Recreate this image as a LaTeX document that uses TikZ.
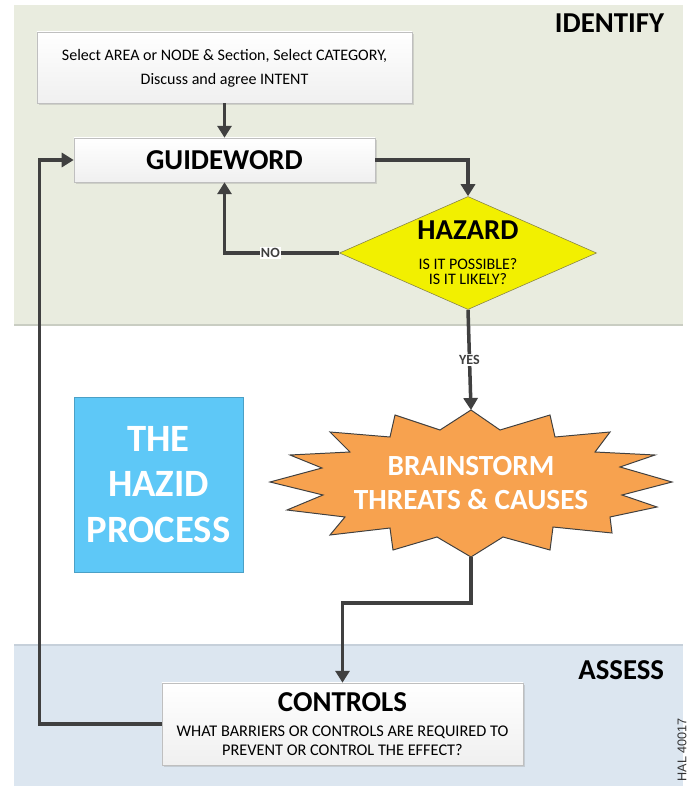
\documentclass[tikz,border=0pt]{standalone}
\usepackage{fontspec}
\setmainfont{Carlito}
\newfontfamily\fignumfont{Liberation Sans}
\usepackage{xcolor}
\definecolor{hzIdent}{HTML}{E9ECDF}
\definecolor{hzIdentLine}{HTML}{C9CDC2}
\definecolor{hzAssess}{HTML}{DCE6F0}
\definecolor{hzAssessLine}{HTML}{C6D0DA}
\definecolor{hzArrow}{HTML}{404040}
\definecolor{hzYellow}{HTML}{F2F000}
\definecolor{hzOrange}{HTML}{F7A24F}
\definecolor{hzBlue}{HTML}{5EC8F7}
\definecolor{hzBorder}{HTML}{BFBFBF}
\usetikzlibrary{shapes.geometric,arrows.meta,positioning,shadows,calc}
\tikzset{
    stepbox/.style={
        draw=hzBorder,
        top color=white,
        bottom color=black!6,
        rectangle,
        align=center,
        inner sep=0pt,
        drop shadow={opacity=0.25, shadow xshift=1.2pt, shadow yshift=-1.2pt}
    },
    decision/.style={
        diamond,
        draw=yellow!45!black,
        fill=hzYellow,
        aspect=2.27,
        inner sep=0pt,
        align=center,
        font=\fontsize{11.4}{11}\selectfont
    },
    process/.style={
        draw=hzBlue!80!black,
        fill=hzBlue,
        rectangle,
        inner sep=0pt,
        align=center,
        text=white,
        font=\fontsize{27.5}{32.5}\selectfont\bfseries
    },
    burst/.style={
        draw=black!75,
        fill=hzOrange,
        line width=0.7pt,
        line join=miter
    },
    flow/.style={
        -{Triangle[length=8.5pt,width=10pt]},
        line width=2.5pt,
        color=hzArrow
    },
    phase/.style={
        font=\fontsize{20.5}{24}\selectfont\bfseries,
        anchor=east
    },
    answer/.style={
        font=\fontsize{10}{10}\selectfont\bfseries,
        fill=white,
        inner sep=1pt
    },
    big/.style={font=\fontsize{20.5}{24}\selectfont\bfseries}
}

\begin{document}
\begin{tikzpicture}[x=0.025cm, y=-0.025cm]
    \useasboundingbox (0,0) rectangle (690,786);

    % phase bands
    \fill[hzIdent] (14,5) rectangle (683,325);
    \draw[hzIdentLine, line width=1pt] (14,325) -- (683,325);
    \fill[hzAssess] (14,645) rectangle (683,786);
    \draw[hzAssessLine, line width=0.8pt] (14,645) -- (683,645);
    \node[phase] (identify) at (669,23) {IDENTIFY};
    \node[phase] (assess) at (669,670) {ASSESS};

    % identify steps
    \node[stepbox, minimum width=9.375cm, minimum height=1.775cm,
        font=\fontsize{11.4}{16.8}\selectfont] (select) at (224.5,67.5)
        {\rule{0pt}{9pt}Select AREA or NODE \& Section, Select CATEGORY,\\Discuss and agree INTENT};
    \node[stepbox, big, minimum width=7.525cm, minimum height=1.1cm]
        (guide) at (224.5,160) {GUIDEWORD};
    \node[decision, minimum width=6.425cm, minimum height=2.825cm] (hazard) at (468,253)
        {{\fontsize{20.5}{24}\selectfont\bfseries HAZARD}\\[10pt]IS IT POSSIBLE?\\[0pt]IS IT LIKELY?};

    % title
    \node[process, minimum width=4.225cm, minimum height=4.375cm] (title) at (158.5,484.5)
        {THE\\HAZID\\PROCESS};

    % brainstorm
    \draw[burst] (471,410) -- (500,430) -- (550,415) -- (555,437) -- (610,432)
        -- (595,452) -- (655,455) -- (620,467) -- (672,482) -- (622,495)
        -- (657,507) -- (610,517) -- (612,533) -- (553,527) -- (550,550)
        -- (503,537) -- (471,557) -- (437,537) -- (393,550) -- (390,528)
        -- (330,535) -- (345,517) -- (287,510) -- (323,495) -- (270,482)
        -- (322,468) -- (290,455) -- (350,452) -- (330,432) -- (390,437)
        -- (395,415) -- (440,430) -- cycle;
    \coordinate (brainTop) at (471,410);
    \coordinate (brainBot) at (471,557);
    \node[text=white, align=center, font=\fontsize{20.8}{24.5}\selectfont\bfseries]
        (brain) at (471,483) {BRAINSTORM\\THREATS \& CAUSES};

    % assess step
    \node[stepbox, minimum width=9.025cm, minimum height=2.05cm,
        font=\fontsize{11.6}{13.4}\selectfont] (ctrl) at (342.5,724)
        {{\fontsize{20.5}{24}\selectfont\bfseries CONTROLS}\\[4pt]WHAT BARRIERS OR CONTROLS ARE REQUIRED TO\\PREVENT OR CONTROL THE EFFECT?};

    % connectors
    \draw[flow] (select) -- (guide);
    \draw[flow] (guide.east) -| (hazard.north);
    \draw[flow] (hazard.west) -| node[answer, pos=0.3] {NO} (guide.south);
    \draw[flow] (hazard.south) -- node[answer] {YES} (brainTop);
    \draw[flow] (brainBot) -- ++(0,46) -| (ctrl.north);
    \draw[flow] (ctrl.west) -- ++(-122,0) |- (guide.west);

    % figure number
    \node[rotate=90, font=\fignumfont\fontsize{9}{9}\selectfont, text=black!80,
        anchor=west, inner sep=1pt] (fignum) at (682,783) {HAL 40017};
\end{tikzpicture}
\end{document}
